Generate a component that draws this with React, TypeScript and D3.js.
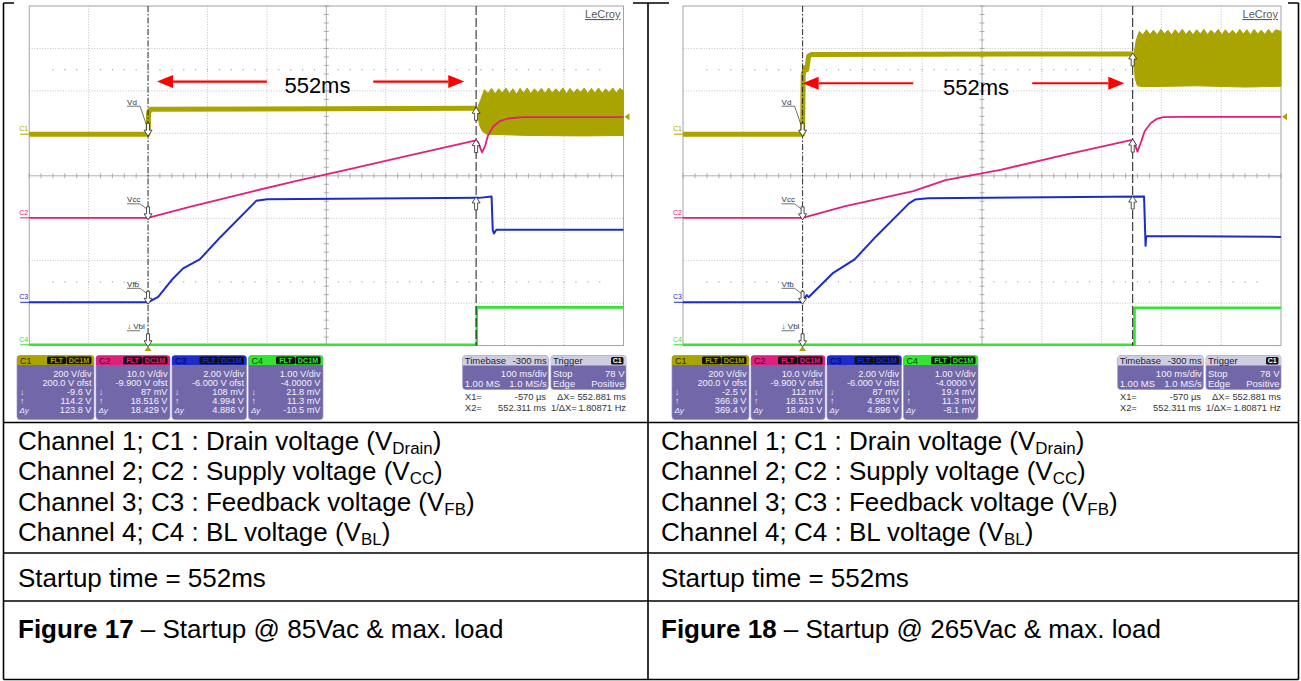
import React, { useEffect } from 'react';
import * as d3 from 'd3';

type P = [number, number];

// ---------- data (x in divisions 0..10 at 100 ms/div, y in divisions 0..8 from top) ----------
const cursorDiv: number[] = [2.0, 7.52];

// Figure 17 (85 Vac)
const f17C1: P[] = [[0, 3.02], [2.0, 3.02], [2.01, 2.5], [2.05, 2.43], [7.53, 2.41]];
const f17C1SwTop: P[] = [[7.54, 2.42], [7.6, 2.2], [7.66, 1.97], [7.72, 2.06], [7.78, 1.94], [7.84, 2.07], [7.9, 1.95], [7.96, 2.05], [8.02, 1.93], [8.08, 2.06], [8.14, 1.95], [8.2, 2.08], [8.26, 1.94], [8.32, 2.05], [8.38, 1.93], [8.44, 2.07], [8.5, 1.95], [8.56, 2.04], [8.62, 1.94], [8.68, 2.06], [8.74, 1.93], [8.8, 2.05], [8.86, 1.95], [8.92, 2.04], [8.98, 1.93], [9.04, 2.07], [9.1, 1.94], [9.16, 2.05], [9.22, 1.95], [9.28, 2.03], [9.34, 1.93], [9.4, 2.06], [9.46, 1.94], [9.52, 2.05], [9.58, 1.93], [9.64, 2.06], [9.7, 1.95], [9.76, 2.04], [9.82, 1.93], [9.88, 2.05], [9.94, 1.94], [10, 2.0]];
const f17C1SwBot: P[] = [[7.54, 2.5], [7.58, 2.82], [7.63, 2.96], [7.7, 3.02], [8.4, 3.05], [9.3, 3.06], [10, 3.05]];
const f17C2: P[] = [[0, 4.99], [2.0, 4.99], [2.7, 4.73], [3.78, 4.36], [4.5, 4.12], [5.3, 3.87], [6.4, 3.52], [7.5, 3.17], [7.55, 3.2], [7.62, 3.45], [7.67, 3.3], [7.72, 3.05], [7.81, 2.84], [7.92, 2.71], [8.06, 2.65], [8.3, 2.62], [10, 2.62]];
const f17C3: P[] = [[0, 6.98], [2.0, 6.98], [2.17, 6.85], [2.4, 6.45], [2.59, 6.18], [2.87, 5.97], [3.22, 5.44], [3.75, 4.69], [3.82, 4.59], [4.0, 4.55], [7.57, 4.52], [7.78, 4.49], [7.8, 5.28], [7.82, 5.36], [7.86, 5.27], [10, 5.27]];
const f17C4: P[] = [[0, 7.98], [7.53, 7.98], [7.53, 7.1], [10, 7.1]];

// Figure 18 (265 Vac)
const f18C1: P[] = [[0, 3.02], [2.0, 3.02], [2.01, 1.62], [2.04, 1.45], [2.07, 1.5], [2.1, 1.18], [2.15, 1.14], [7.53, 1.13]];
const f18C1SwTop: P[] = [[7.54, 1.14], [7.58, 0.8], [7.63, 0.6], [7.69, 0.68], [7.75, 0.56], [7.81, 0.67], [7.87, 0.57], [7.93, 0.68], [7.99, 0.55], [8.05, 0.66], [8.11, 0.57], [8.17, 0.68], [8.23, 0.56], [8.29, 0.66], [8.35, 0.55], [8.41, 0.67], [8.47, 0.57], [8.53, 0.68], [8.59, 0.56], [8.65, 0.66], [8.71, 0.55], [8.77, 0.67], [8.83, 0.57], [8.89, 0.66], [8.95, 0.55], [9.01, 0.68], [9.07, 0.56], [9.13, 0.66], [9.19, 0.57], [9.25, 0.67], [9.31, 0.55], [9.37, 0.66], [9.43, 0.56], [9.49, 0.68], [9.55, 0.55], [9.61, 0.66], [9.67, 0.57], [9.73, 0.67], [9.79, 0.55], [9.85, 0.66], [9.91, 0.56], [10, 0.6]];
const f18C1SwBot: P[] = [[7.54, 1.2], [7.56, 1.7], [7.6, 1.88], [7.7, 1.9], [8.6, 1.88], [9.4, 1.91], [10, 1.89]];
const f18C2: P[] = [[0, 4.99], [2.0, 4.99], [2.7, 4.72], [3.85, 4.36], [4.39, 4.1], [5.31, 3.86], [6.4, 3.5], [7.49, 3.16], [7.54, 3.2], [7.6, 3.43], [7.66, 3.2], [7.72, 2.95], [7.82, 2.76], [7.92, 2.66], [8.03, 2.62], [8.3, 2.61], [10, 2.61]];
const f18C3: P[] = [[0, 6.98], [2.0, 6.98], [2.03, 6.89], [2.07, 6.81], [2.1, 6.86], [2.15, 6.79], [2.5, 6.3], [2.87, 5.97], [3.22, 5.44], [3.78, 4.65], [3.88, 4.56], [4.1, 4.53], [7.71, 4.49], [7.73, 5.4], [7.735, 5.65], [7.745, 5.42], [10, 5.44]];
const f18C4: P[] = [[0, 7.98], [7.55, 7.98], [7.55, 7.11], [10, 7.11]];

// cursor marker levels on each channel
const f17Cursor1Levels: number[] = [3.02, 4.99, 6.98, 7.98];
const f17Cursor2Levels: number[] = [2.41, 3.17, 4.52];
const f18Cursor1Levels: number[] = [3.02, 4.99, 6.98, 7.98];
const f18Cursor2Levels: number[] = [1.13, 3.16, 4.5];
const markerLabels: string[] = ['Vd', 'Vcc', 'Vfb', '\u2193 Vbl'];
const channelNames: string[] = ['C1', 'C2', 'C3', 'C4'];
const channelOffsetsDiv: number[] = [3.02, 4.99, 6.98, 7.98];
const triggerLevelDiv = 2.61;

// annotation: "552ms" with arrows (div units)
const f17Arrows: { from: number; to: number; y: number }[] = [{ from: 4.0, to: 2.15, y: 1.78 }, { from: 5.79, to: 7.32, y: 1.78 }];
const f17LabelPos: P = [4.85, 1.85];
const f18Arrows: { from: number; to: number; y: number }[] = [{ from: 3.85, to: 2.0, y: 1.82 }, { from: 5.84, to: 7.38, y: 1.82 }];
const f18LabelPos: P = [4.9, 1.9];

// info panel values
const f17Info: string[][] = [
  ['200 V/div', '200.0 V ofst', '-9.6 V', '114.2 V', '123.8 V'],
  ['10.0 V/div', '-9.900 V ofst', '87 mV', '18.516 V', '18.429 V'],
  ['2.00 V/div', '-6.000 V ofst', '108 mV', '4.994 V', '4.886 V'],
  ['1.00 V/div', '-4.0000 V', '21.8 mV', '11.3 mV', '-10.5 mV'],
];
const f18Info: string[][] = [
  ['200 V/div', '200.0 V ofst', '-2.5 V', '366.9 V', '369.4 V'],
  ['10.0 V/div', '-9.900 V ofst', '112 mV', '18.513 V', '18.401 V'],
  ['2.00 V/div', '-6.000 V ofst', '87 mV', '4.983 V', '4.896 V'],
  ['1.00 V/div', '-4.0000 V', '19.4 mV', '11.3 mV', '-8.1 mV'],
];
const timebaseRows: string[][] = [['Timebase', '-300 ms'], ['', '100 ms/div'], ['1.00 MS', '1.0 MS/s']];
const triggerRows: string[][] = [['Trigger', 'C1'], ['Stop', '78 V'], ['Edge', 'Positive']];
const cursorRows: string[][] = [['X1=', '-570 \u00b5s', '\u0394X=', '552.881 ms'], ['X2=', '552.311 ms', '1/\u0394X=', '1.80871 Hz']];

// table text
const channelDesc: { pre: string; sub: string }[] = [
  { pre: 'Channel 1; C1 : Drain voltage (V', sub: 'Drain' },
  { pre: 'Channel 2; C2 : Supply voltage (V', sub: 'CC' },
  { pre: 'Channel 3; C3 : Feedback voltage (V', sub: 'FB' },
  { pre: 'Channel 4; C4 : BL voltage (V', sub: 'BL' },
];
const startupText = 'Startup time = 552ms';
const figureCaptions: { num: string; rest: string }[] = [
  { num: 'Figure 17', rest: ' \u2013 Startup @ 85Vac & max. load' },
  { num: 'Figure 18', rest: ' \u2013 Startup @ 265Vac & max. load' },
];

// ---------- styling ----------
const CH_COLORS = ['#aaa400', '#e0207e', '#1c2cc8', '#33e433'];
const CH_DARK = ['#2e2b00', '#5a0030', '#00006a', '#004c00'];
const FONT = '"Liberation Sans", Arial, Helvetica, sans-serif';
const PANEL = '#7167a9';
const PANEL_HEAD = '#cfcde2';

interface ScopeProps {
  ox: number;
  gx0: number;
  gx1: number;
  c1: P[];
  swTop: P[];
  swBot: P[];
  c2: P[];
  c3: P[];
  c4: P[];
  cur1: number[];
  cur2: number[];
  arrows: { from: number; to: number; y: number }[];
  labelPos: P;
  info: string[][];
}

function DownArrow({ x, y }: { x: number; y: number }) {
  const d = `M${x},${y} L${x - 4},${y - 6} L${x - 1.5},${y - 6} L${x - 1.5},${y - 13} L${x + 1.5},${y - 13} L${x + 1.5},${y - 6} L${x + 4},${y - 6} Z`;
  return <path d={d} fill="#fff" stroke="#222" strokeWidth={0.8} />;
}
function UpArrow({ x, y }: { x: number; y: number }) {
  const d = `M${x},${y} L${x - 4},${y + 6} L${x - 1.5},${y + 6} L${x - 1.5},${y + 13} L${x + 1.5},${y + 13} L${x + 1.5},${y + 6} L${x + 4},${y + 6} Z`;
  return <path d={d} fill="#fff" stroke="#222" strokeWidth={0.8} />;
}

function Scope(p: ScopeProps) {
  const gy0 = 6;
  const gy1 = 345.6;
  const xs = d3.scaleLinear().domain([0, 10]).range([p.gx0, p.gx1]);
  const ys = d3.scaleLinear().domain([0, 8]).range([gy0, gy1]);
  const line = d3.line<P>().x((d) => xs(d[0])).y((d) => ys(d[1]));
  const band = line([...p.swTop, ...p.swBot.slice().reverse()]) + 'Z';
  const fine = d3.range(0, 50.001, 1).map((i) => i / 5);
  const fineY = d3.range(0, 40.001, 1).map((i) => i / 5);
  const c1x = xs(cursorDiv[0]);
  const c2x = xs(cursorDiv[1]);

  const boxX: [number, number][] = [[17, 94], [96, 170], [172, 246.5], [248.5, 323]];
  const rowY = [376.5, 385.7, 394.9, 404.1, 413.3];

  return (
    <g>
      <rect x={p.ox + 14} y={0} width={619} height={421} fill="#fff" />
      {d3.range(1, 10).filter((i) => i !== 5).map((i) => (
        <line key={'gv' + i} x1={xs(i)} x2={xs(i)} y1={gy0} y2={gy1} stroke="#b4b4b4" strokeWidth={0.8} strokeDasharray="1 1.6" />
      ))}
      {d3.range(1, 8).filter((j) => j !== 4).map((j) => (
        <line key={'gh' + j} x1={p.gx0} x2={p.gx1} y1={ys(j)} y2={ys(j)} stroke="#b4b4b4" strokeWidth={0.8} strokeDasharray="1 1.6" />
      ))}
      <line x1={xs(5)} x2={xs(5)} y1={gy0} y2={gy1} stroke="#9c9c9c" strokeWidth={0.8} />
      <line x1={p.gx0} x2={p.gx1} y1={ys(4)} y2={ys(4)} stroke="#9c9c9c" strokeWidth={0.8} />
      {fine.map((v) => (
        <line key={'tx' + v} x1={xs(v)} x2={xs(v)} y1={ys(4) - 2.5} y2={ys(4) + 2.5} stroke="#9c9c9c" strokeWidth={0.8} />
      ))}
      {fineY.map((v) => (
        <line key={'ty' + v} x1={xs(5) - 2.5} x2={xs(5) + 2.5} y1={ys(v)} y2={ys(v)} stroke="#9c9c9c" strokeWidth={0.8} />
      ))}
      {[1.5, 6.5].map((r) =>
        fine.filter((v) => v > 0.3 && v < 9.7).map((v) => (
          <rect key={'dr' + r + '_' + v} x={xs(v) - 0.6} y={ys(r) - 0.6} width={1.2} height={1.2} fill="#a8a8a8" />
        ))
      )}
      <rect x={p.gx0} y={gy0} width={p.gx1 - p.gx0} height={gy1 - gy0} fill="none" stroke="#9a9a9a" strokeWidth={0.9} />

      <text x={p.gx1 - 3} y={18} textAnchor="end" fontFamily={FONT} fontSize={11} fill="#5a5a5a" textDecoration="underline">LeCroy</text>

      <path d={line(p.c4) || ''} fill="none" stroke={CH_COLORS[3]} strokeWidth={2.6} />
      <path d={band} fill={CH_COLORS[0]} stroke={CH_COLORS[0]} strokeWidth={1} />
      <path d={line(p.c1) || ''} fill="none" stroke={CH_COLORS[0]} strokeWidth={5} strokeLinejoin="round" />
      <path d={line(p.c3) || ''} fill="none" stroke={CH_COLORS[2]} strokeWidth={2} strokeLinejoin="round" />
      <path d={line(p.c2) || ''} fill="none" stroke={CH_COLORS[1]} strokeWidth={1.8} strokeLinejoin="round" />

      {channelNames.map((n, i) => (
        <g key={n}>
          <line x1={p.gx0 - 9} x2={p.gx0} y1={ys(channelOffsetsDiv[i])} y2={ys(channelOffsetsDiv[i])} stroke={CH_COLORS[i]} strokeWidth={1} />
          <text x={p.gx0 - 10} y={ys(channelOffsetsDiv[i]) - 3} fontFamily={FONT} fontSize={7} fill={CH_COLORS[i]}>{n}</text>
        </g>
      ))}
      <path d={`M${p.gx1 + 1},${ys(triggerLevelDiv)} l5,-3.5 l0,7 Z`} fill={CH_COLORS[0]} />
      <path d={`M${c1x},${gy1 + 0.5} l-3.5,5 l7,0 Z`} fill={CH_COLORS[0]} />

      <line x1={c1x} x2={c1x} y1={gy0} y2={gy1} stroke="#1a1a1a" strokeWidth={0.9} strokeDasharray="6 2 1.5 2" />
      <line x1={c2x} x2={c2x} y1={gy0} y2={gy1} stroke="#1a1a1a" strokeWidth={1} strokeDasharray="9 3" />

      {p.cur1.map((lv, i) => {
        const ty = ys(lv) + 2;
        const isD = i === 0;
        const ul = isD ? ty - 30 : ty - 16;
        return (
          <g key={'m1' + i}>
            <DownArrow x={c1x} y={ty} />
            <text x={c1x - 21} y={ul - 1.5} fontFamily={FONT} fontSize={8} fill="#333">{markerLabels[i]}</text>
            <line x1={c1x - 21} x2={c1x - 8} y1={ul} y2={ul} stroke="#333" strokeWidth={0.7} />
            {i < 3 && <line x1={c1x - 8} x2={c1x - 1.5} y1={ul} y2={ty - 11} stroke="#333" strokeWidth={0.7} />}
          </g>
        );
      })}
      {p.cur2.map((lv, i) => (
        <UpArrow key={'m2' + i} x={c2x} y={ys(lv) - 1} />
      ))}

      {p.arrows.map((a, i) => {
        const x0 = xs(a.from);
        const x1 = xs(a.to);
        const y = ys(a.y);
        const dir = Math.sign(x1 - x0);
        const hx = x1 - dir * 16;
        return (
          <g key={'ar' + i}>
            <line x1={x0} x2={hx} y1={y} y2={y} stroke="#ff0000" strokeWidth={2.2} />
            <path d={`M${x1},${y} L${hx},${y - 6.5} L${hx},${y + 6.5} Z`} fill="#ff0000" />
          </g>
        );
      })}
      <text x={xs(p.labelPos[0])} y={ys(p.labelPos[1]) + 8} textAnchor="middle" fontFamily={FONT} fontSize={22} fill="#000">552ms</text>

      {p.info.map((vals, i) => {
        const bx0 = p.ox + boxX[i][0];
        const bx1 = p.ox + boxX[i][1];
        return (
          <g key={'ib' + i}>
            <rect x={bx0} y={355.5} width={bx1 - bx0} height={64} rx={3} fill={PANEL} stroke="#9a92c8" strokeWidth={0.7} />
            <path d={`M${bx0},365 L${bx0},358.5 Q${bx0},355.5 ${bx0 + 3},355.5 L${bx1 - 3},355.5 Q${bx1},355.5 ${bx1},358.5 L${bx1},365 Z`} fill={CH_COLORS[i]} />
            <text x={bx0 + 3} y={363.6} fontFamily={FONT} fontSize={9} fill={CH_DARK[i]}>{channelNames[i]}</text>
            <rect x={bx1 - 47} y={356.6} width={19} height={7.6} rx={1.5} fill="#111" />
            <rect x={bx1 - 27.5} y={356.6} width={25} height={7.6} rx={1.5} fill="#111" />
            <text x={bx1 - 37.5} y={363.1} textAnchor="middle" fontFamily={FONT} fontSize={7.2} fontWeight="bold" fill={CH_COLORS[i]}>FLT</text>
            <text x={bx1 - 15} y={363.1} textAnchor="middle" fontFamily={FONT} fontSize={7.2} fontWeight="bold" fill={CH_COLORS[i]}>DC1M</text>
            {vals.map((v, k) => (
              <text key={k} x={bx1 - 2.5} y={rowY[k]} textAnchor="end" fontFamily={FONT} fontSize={9.2} fill="#f2f2fa">{v}</text>
            ))}
            <text x={bx0 + 3} y={rowY[2]} fontFamily={FONT} fontSize={8.5} fill="#f2f2fa">{'\u2193'}</text>
            <text x={bx0 + 3} y={rowY[3]} fontFamily={FONT} fontSize={8.5} fill="#f2f2fa">{'\u2191'}</text>
            <text x={bx0 + 2.5} y={rowY[4]} fontFamily={FONT} fontSize={8} fontStyle="italic" fill="#f2f2fa">{'\u0394y'}</text>
          </g>
        );
      })}

      {[{ x0: 462.7, x1: 548.3, rows: timebaseRows }, { x0: 551, x1: 626, rows: triggerRows }].map((b, bi) => {
        const bx0 = p.ox + b.x0;
        const bx1 = p.ox + b.x1;
        return (
          <g key={'tb' + bi}>
            <rect x={bx0} y={355.5} width={bx1 - bx0} height={34} rx={3} fill={PANEL} stroke="#9a92c8" strokeWidth={0.7} />
            <path d={`M${bx0},365.5 L${bx0},358.5 Q${bx0},355.5 ${bx0 + 3},355.5 L${bx1 - 3},355.5 Q${bx1},355.5 ${bx1},358.5 L${bx1},365.5 Z`} fill={PANEL_HEAD} />
            {b.rows.map((r, k) => {
              const y = k === 0 ? 363.8 : k === 1 ? 376.5 : 387;
              const col = k === 0 ? '#1a1a2a' : '#f2f2fa';
              const isBadge = bi === 1 && k === 0;
              return (
                <g key={k}>
                  <text x={bx0 + 2} y={y} fontFamily={FONT} fontSize={9.5} fill={col}>{r[0]}</text>
                  {isBadge ? (
                    <g>
                      <rect x={bx1 - 15} y={357} width={12.5} height={7.5} rx={1.5} fill="#111" />
                      <text x={bx1 - 8.75} y={363.3} textAnchor="middle" fontFamily={FONT} fontSize={7} fontWeight="bold" fill="#fff">{r[1]}</text>
                    </g>
                  ) : (
                    <text x={bx1 - 1.5} y={y} textAnchor="end" fontFamily={FONT} fontSize={9.5} fill={col}>{r[1]}</text>
                  )}
                </g>
              );
            })}
          </g>
        );
      })}
      {cursorRows.map((r, k) => {
        const y = 400 + k * 10.6;
        return (
          <g key={'cr' + k}>
            <text x={p.ox + 465} y={y} fontFamily={FONT} fontSize={9.3} fill="#333">{r[0]}</text>
            <text x={p.ox + 546} y={y} textAnchor="end" fontFamily={FONT} fontSize={9.3} fill="#333">{r[1]}</text>
            <text x={p.ox + (k === 0 ? 557 : 551)} y={y} fontFamily={FONT} fontSize={9.3} fill="#333">{r[2]}</text>
            <text x={p.ox + 626} y={y} textAnchor="end" fontFamily={FONT} fontSize={9.3} fill="#333">{r[3]}</text>
          </g>
        );
      })}
    </g>
  );
}

export default function App() {
  useEffect(() => {
    document.body.style.margin = '0';
  }, []);
  const W = 1301;
  const H = 681;
  const colX = [18, 661];
  const rowsBaseline = [450, 480, 510.5, 541];
  const TEXT = 26;
  return (
    <svg width={W} height={H} viewBox={`0 0 ${W} ${H}`} style={{ position: 'absolute', left: 0, top: 0, background: '#fff' }}>
      <rect x={0} y={0} width={W} height={H} fill="#fff" />
      <g stroke="#000" strokeWidth={1.6}>
        <line x1={3.5} x2={1298.5} y1={3} y2={3} />
        <line x1={3.5} x2={1298.5} y1={679.5} y2={679.5} />
        <line x1={3.5} x2={3.5} y1={3} y2={679.5} />
        <line x1={1298.5} x2={1298.5} y1={3} y2={679.5} />
        <line x1={648} x2={648} y1={3} y2={679.5} />
        <line x1={3.5} x2={1298.5} y1={422.5} y2={422.5} />
        <line x1={3.5} x2={1298.5} y1={553} y2={553} />
        <line x1={3.5} x2={1298.5} y1={601} y2={601} />
      </g>
      <Scope ox={0} gx0={29.2} gx1={623.5} c1={f17C1} swTop={f17C1SwTop} swBot={f17C1SwBot} c2={f17C2} c3={f17C3} c4={f17C4}
        cur1={f17Cursor1Levels} cur2={f17Cursor2Levels} arrows={f17Arrows} labelPos={f17LabelPos} info={f17Info} />
      <Scope ox={655} gx0={683} gx1={1281} c1={f18C1} swTop={f18C1SwTop} swBot={f18C1SwBot} c2={f18C2} c3={f18C3} c4={f18C4}
        cur1={f18Cursor1Levels} cur2={f18Cursor2Levels} arrows={f18Arrows} labelPos={f18LabelPos} info={f18Info} />
      {colX.map((cx, ci) => (
        <g key={'col' + ci} fontFamily={FONT} fontSize={TEXT} fill="#000">
          {channelDesc.map((c, i) => (
            <text key={i} x={cx} y={rowsBaseline[i]}>
              {c.pre}
              <tspan fontSize={TEXT * 0.65} dy={4}>{c.sub}</tspan>
              <tspan dy={-4}>)</tspan>
            </text>
          ))}
          <text x={cx} y={586.5}>{startupText}</text>
          <text x={cx} y={638}>
            <tspan fontWeight="bold">{figureCaptions[ci].num}</tspan>
            <tspan>{figureCaptions[ci].rest}</tspan>
          </text>
        </g>
      ))}
    </svg>
  );
}
